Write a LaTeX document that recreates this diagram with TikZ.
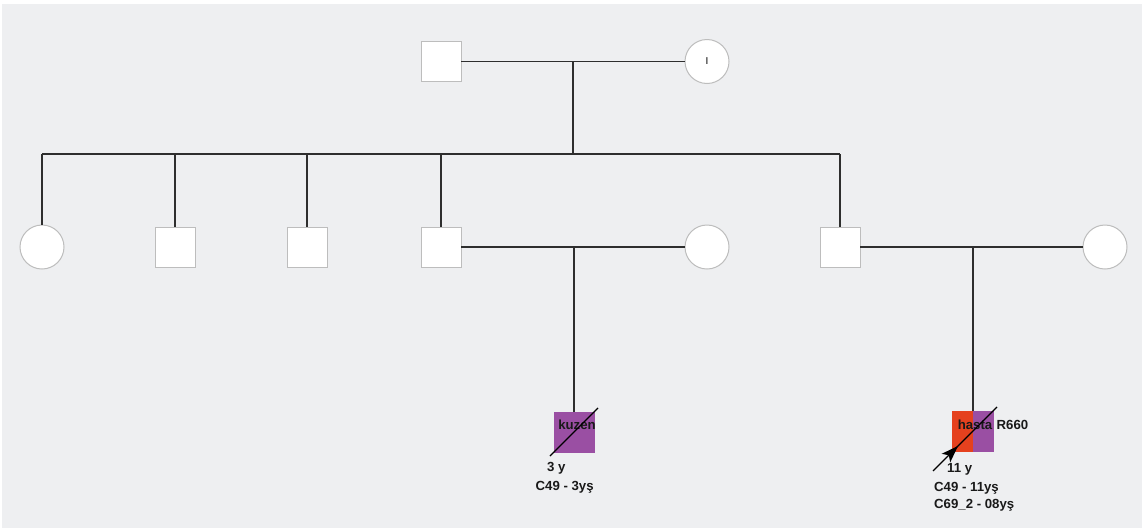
\documentclass[tikz,border=0pt]{standalone}
\usepackage{fontspec}
\setmainfont{Liberation Sans}
\usetikzlibrary{arrows.meta}
\definecolor{bg}{HTML}{EEEFF1}
\definecolor{lin}{HTML}{2E2E2E}
\definecolor{bord}{HTML}{BDBDBD}
\definecolor{purp}{HTML}{9A4FA3}
\definecolor{redo}{HTML}{E5411E}
\begin{document}
\begin{tikzpicture}[x=1pt,y=-1pt,
  male/.style={draw=bord,line width=0.6pt,fill=white,minimum size=40pt,inner sep=0pt,rectangle},
  female/.style={draw=bord,line width=1pt,fill=white,minimum size=44pt,inner sep=0pt,circle},
  rel/.style={draw=lin,line width=1.3pt},
  lbl/.style={font=\bfseries\fontsize{13.2}{15}\selectfont,inner sep=0pt,text=black!90}]
\useasboundingbox (0,0) rectangle (1142,528);
\fill[bg] (2,4) rectangle (1142,528);
% generation I
\node[male] (gf) at (441,61.5) {};
\node[female] (gm) at (707,61.5) {\fontsize{10}{10}\selectfont I};
\coordinate (m1) at (573,61.5);
\coordinate (s1) at (573,154);
% generation II
\node[female] (c1) at (42,247) {};
\node[male] (c2) at (175,247) {};
\node[male] (c3) at (307,247) {};
\node[male] (c4) at (441,247) {};
\node[male] (c5) at (840,247) {};
\node[female] (w4) at (707,247) {};
\node[female] (w5) at (1105,247) {};
\coordinate (m4) at (574,247);
\coordinate (m5) at (973,247);
% generation III
\node[rectangle,fill=purp,minimum size=41pt,inner sep=0pt] (k) at (574,432.5) {};
\node[rectangle,minimum size=41pt,inner sep=0pt] (h) at (973,431.5) {};
\fill[redo] (h.north west) rectangle (h.south);
\fill[purp] (h.north) rectangle (h.south east);
% relationship lines
\draw[rel] (gf.east) -- (gm.west);
\draw[rel] (m1) -- (s1);
\draw[rel] (c1.north |- s1) -- (c5.north |- s1);
\foreach \n in {c1,c2,c3,c4,c5} \draw[rel] (\n.north |- s1) -- (\n.north);
\draw[rel] (c4.east) -- (w4.west);
\draw[rel] (c5.east) -- (w5.west);
\draw[rel] (m4) -- (k.north);
\draw[rel] (m5) -- (h.north);
% labels
\node[lbl] (kl) at (577,425) {kuzen};
\node[lbl,anchor=west] (k1) at (547,468) {3 y};
\node[lbl,anchor=west] (k2) at (535.5,487) {C49 - 3yş};
\node[lbl] (hl) at (975,425) {hasta};
\node[lbl,anchor=west] (hr) at (996.5,425) {R660};
\node[lbl,anchor=west] (h1) at (947,469) {11 y};
\node[lbl,anchor=west] (h2) at (934,488) {C49 - 11yş};
\node[lbl,anchor=west] (h3) at (934,505) {C69\_2 - 08yş};
% deceased slashes
\coordinate (ka) at (550,456);
\coordinate (kb) at (598,408);
\draw[black,line width=1.1pt] (ka) -- (kb);
\coordinate (ha) at (949,455);
\coordinate (hb) at (997,407);
\draw[black,line width=1.1pt] (ha) -- (hb);
% proband arrow
\coordinate (pa) at (933,471);
\coordinate (pb) at (958,446);
\draw[black,line width=1.3pt,-{Stealth[length=17pt,width=12pt,inset=4pt]}] (pa) -- (pb);
\end{tikzpicture}
\end{document}
